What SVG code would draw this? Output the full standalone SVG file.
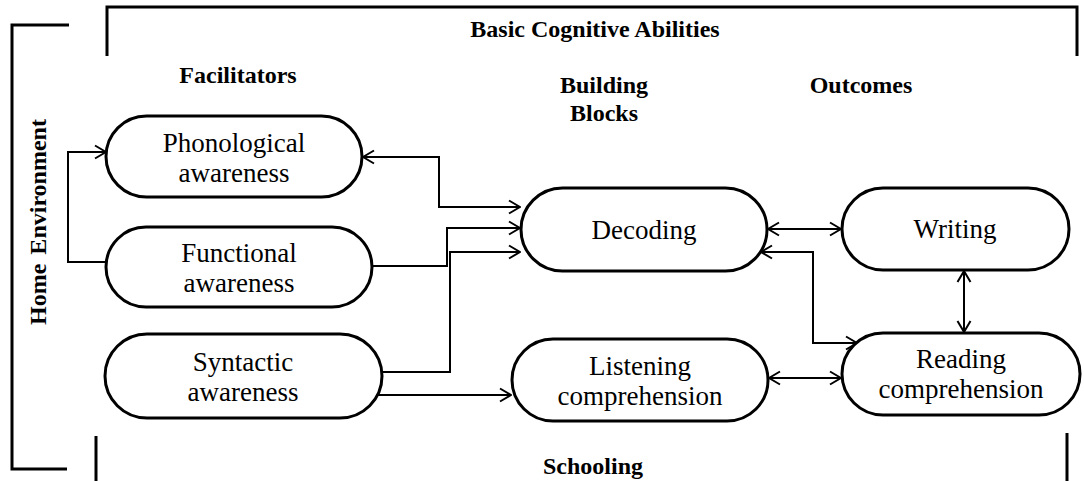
<svg xmlns="http://www.w3.org/2000/svg" width="1084" height="481" viewBox="0 0 1084 481">
  <style>
    .node { fill: #fff; stroke: #000; stroke-width: 3; }
    .lbl { font-family: "Liberation Serif", "Times New Roman", serif; font-size: 27px; fill: #000; text-anchor: middle; }
    .hdr { font-family: "Liberation Serif", "Times New Roman", serif; font-size: 24px; font-weight: bold; fill: #000; text-anchor: middle; }
    .frame { fill: none; stroke: #000; stroke-width: 3; }
    .conn { fill: none; stroke: #000; stroke-width: 2; }
  </style>
  <defs>
    <marker id="arr" markerUnits="userSpaceOnUse" markerWidth="14" markerHeight="16" viewBox="0 0 14 16" refX="13" refY="8" orient="auto-start-reverse">
      <path d="M2,1.5 L13,8 L2,14.5" fill="none" stroke="#000" stroke-width="2"/>
    </marker>
  </defs>
  <rect width="1084" height="481" fill="#fff"/>

  <!-- framing brackets -->
  <g id="frames">
    <path class="frame" d="M107,56 V7 H1077 V56"/>
    <path class="frame" d="M69,25 H12 V469 H67"/>
    <path class="frame" d="M96,436 V481"/>
    <path class="frame" d="M1067,433 V481"/>
  </g>

  <!-- headings -->
  <g id="headings">
    <text class="hdr" x="595" y="37">Basic Cognitive Abilities</text>
    <text class="hdr" x="238" y="83">Facilitators</text>
    <text class="hdr" x="604" y="93">Building</text>
    <text class="hdr" x="604" y="121">Blocks</text>
    <text class="hdr" x="861" y="93">Outcomes</text>
    <text class="hdr" x="593" y="474">Schooling</text>
    <text class="hdr" transform="translate(46,222) rotate(-90)" x="0" y="0" word-spacing="3">Home Environment</text>
  </g>

  <!-- connectors -->
  <g id="connectors">
    <path class="conn" d="M106,262 H68 V152 H106" marker-end="url(#arr)"/>
    <path class="conn" d="M363,157 H439 V207 H520" marker-start="url(#arr)" marker-end="url(#arr)"/>
    <path class="conn" d="M372,266 H447 V228 H520" marker-end="url(#arr)"/>
    <path class="conn" d="M381,372 H450 V252 H520" marker-end="url(#arr)"/>
    <path class="conn" d="M376,395 H511" marker-end="url(#arr)"/>
    <path class="conn" d="M768,229 H841" marker-start="url(#arr)" marker-end="url(#arr)"/>
    <path class="conn" d="M761,252 H813 V343 H857" marker-start="url(#arr)" marker-end="url(#arr)"/>
    <path class="conn" d="M769,378 H841" marker-start="url(#arr)" marker-end="url(#arr)"/>
    <path class="conn" d="M964,271 V332" marker-start="url(#arr)" marker-end="url(#arr)"/>
  </g>

  <!-- facilitators -->
  <g id="phonological">
    <rect class="node" x="106" y="116" width="256" height="81" rx="40.5"/>
    <text class="lbl" x="234" y="152">Phonological</text>
    <text class="lbl" x="234" y="182">awareness</text>
  </g>
  <g id="functional">
    <rect class="node" x="106" y="227" width="266" height="80" rx="40"/>
    <text class="lbl" x="239" y="262">Functional</text>
    <text class="lbl" x="239" y="292">awareness</text>
  </g>
  <g id="syntactic">
    <rect class="node" x="105" y="334" width="277" height="84" rx="42"/>
    <text class="lbl" x="243" y="371">Syntactic</text>
    <text class="lbl" x="243" y="401">awareness</text>
  </g>

  <!-- building blocks -->
  <g id="decoding">
    <rect class="node" x="521" y="188" width="246" height="83" rx="41.5"/>
    <text class="lbl" x="644" y="239">Decoding</text>
  </g>
  <g id="listening">
    <rect class="node" x="512" y="339" width="256" height="82" rx="41"/>
    <text class="lbl" x="640" y="375">Listening</text>
    <text class="lbl" x="640" y="405">comprehension</text>
  </g>

  <!-- outcomes -->
  <g id="writing">
    <rect class="node" x="842" y="188" width="227" height="82" rx="41"/>
    <text class="lbl" x="955" y="238">Writing</text>
  </g>
  <g id="reading">
    <rect class="node" x="842" y="333" width="238" height="82" rx="41"/>
    <text class="lbl" x="961" y="368">Reading</text>
    <text class="lbl" x="961" y="398">comprehension</text>
  </g>
</svg>
